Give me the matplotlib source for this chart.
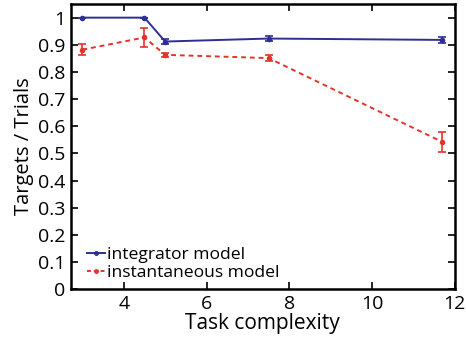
import matplotlib
matplotlib.use('Agg')
import matplotlib.pyplot as plt
from matplotlib.lines import Line2D

plt.rcParams['font.family'] = ['Open Sans', 'DejaVu Sans']

# data
complexity = [3.0, 4.5, 5.0, 7.5, 11.7]
integ = [1.0, 1.0, 0.912, 0.923, 0.918]
integ_err = [0.0, 0.0, 0.010, 0.008, 0.010]
inst = [0.882, 0.927, 0.863, 0.851, 0.542]
inst_err = [0.021, 0.035, 0.007, 0.010, 0.037]

blue = '#2e2e96'
red = '#e5332a'

fig = plt.figure(figsize=(4.66, 3.39), dpi=100)
ax = fig.add_axes([0.152, 0.147, 0.824, 0.841])

ax.errorbar(complexity, integ, yerr=integ_err, color=blue, lw=1.4,
            marker='o', ms=3, capsize=3, elinewidth=1.2, capthick=1.2)
ax.errorbar(complexity, inst, yerr=inst_err, color=red, lw=1.4, ls='--',
            dashes=(2.5, 2), marker='o', ms=3, capsize=3, elinewidth=1.2,
            capthick=1.2)

ax.set_xlim(2.72, 12)
ax.set_ylim(0, 1.05)
ax.set_xticks([4, 6, 8, 10, 12])
ax.set_yticks([0, 0.1, 0.2, 0.3, 0.4, 0.5, 0.6, 0.7, 0.8, 0.9, 1])
ax.set_yticklabels(['0', '0.1', '0.2', '0.3', '0.4', '0.5', '0.6', '0.7', '0.8', '0.9', '1'])
ax.tick_params(direction='in', top=True, right=True, labelsize=14, length=5, width=1.2, pad=4)
for s in ax.spines.values():
    s.set_linewidth(1.8)

ax.set_xlabel('Task complexity', fontsize=15, labelpad=0)
ax.set_ylabel('Targets / Trials', fontsize=14.5, labelpad=3)

### legend: plain line + marker
handles = [Line2D([], [], color=blue, lw=1.4, marker='o', ms=2.5),
           Line2D([], [], color=red, lw=1.4, ls='--', dashes=(2, 1.5), marker='o', ms=2.5)]
ax.legend(handles, ['integrator model', 'instantaneous model'], loc='lower left',
          frameon=False, fontsize=12.6, handlelength=1.0, handletextpad=0.1,
          borderaxespad=0.0, labelspacing=0.1, bbox_to_anchor=(0.025, 0.005))

fig.savefig('out.png', dpi=100)
